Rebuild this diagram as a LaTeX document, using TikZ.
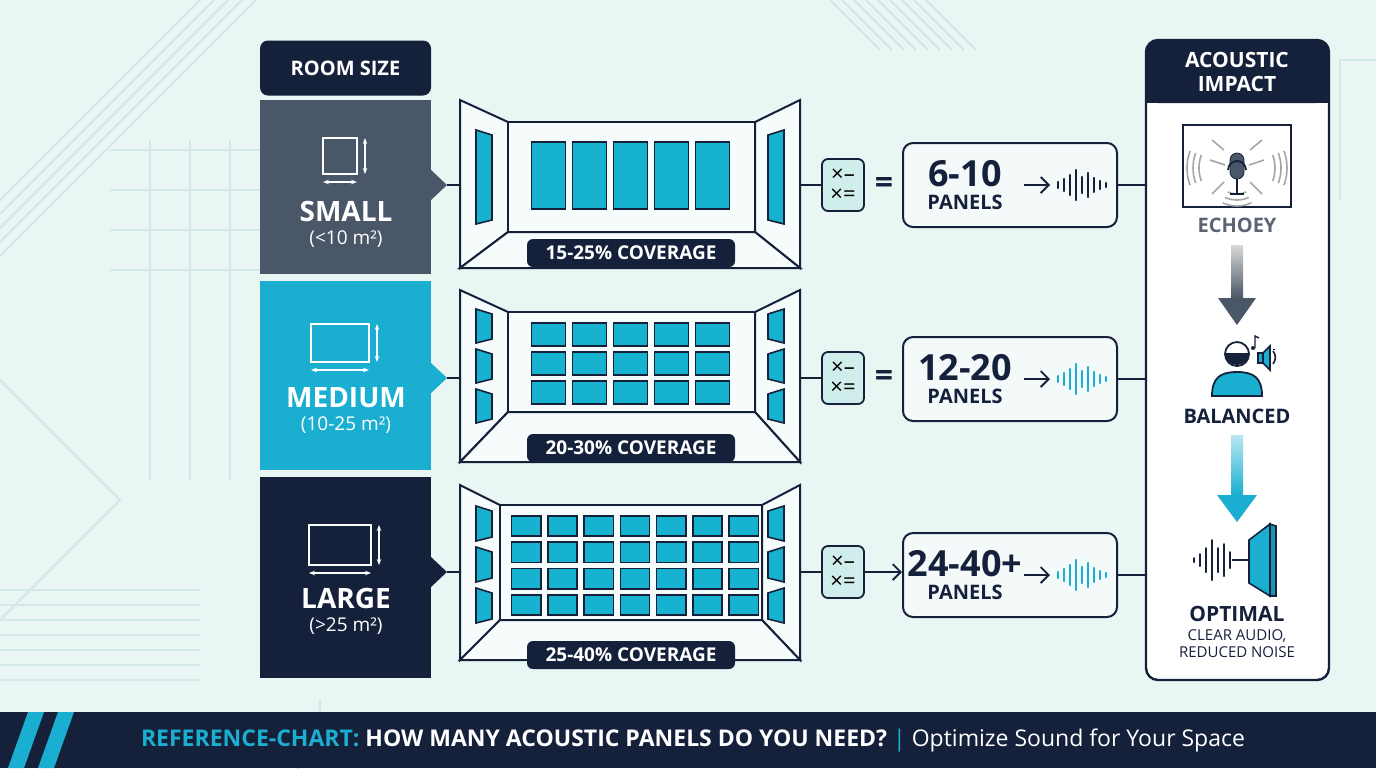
\documentclass[tikz,border=0pt]{standalone}
\usepackage{fontspec}
\setmainfont{Open Sans}
\usetikzlibrary{arrows.meta,shapes.geometric}
\definecolor{bg}{HTML}{E9F6F4}
\definecolor{navy}{HTML}{15213B}
\definecolor{slate}{HTML}{4A5768}
\definecolor{cyan}{HTML}{1AAFD0}
\definecolor{pcyan}{HTML}{17B2D0}
\definecolor{deco}{HTML}{D3E9E6}
\definecolor{calc}{HTML}{CFEDEA}
\definecolor{gtxt}{HTML}{5A6474}
\newcommand{\wavebars}[3]{% x y color
  \foreach \dx/\h in {0/3,6/6,12/10,18/15,24/8,30/12,36/7,42/4,48/2}{
    \draw[#3,line width=1.2pt,line cap=round] (#1+\dx,#2-\h) -- (#1+\dx,#2+\h);}}
\newcommand{\roompanels}[6]{% x0 y0 x1 y1 rows cols
  \pgfmathsetmacro{\pw}{(#3-#1)/#6}\pgfmathsetmacro{\ph}{(#4-#2)/#5}
  \foreach \r in {1,...,#5}{\foreach \c in {1,...,#6}{
    \draw[navy,line width=0.8pt,fill=pcyan] ({#1+(\c-1)*\pw+3.5},{#2+(\r-1)*\ph+3}) rectangle ({#1+\c*\pw-3.5},{#2+\r*\ph-3});}}}
\begin{document}
\begin{tikzpicture}[x=0.5pt,y=-0.5pt,
  hdr/.style={fill=navy,text=white,font=\bfseries\fontsize{10}{12}\selectfont,align=center},
  wall/.style={draw=navy,line width=1pt,fill=white!60!bg},
  cov/.style={fill=navy,text=white,rounded corners=3pt,font=\bfseries\fontsize{9.5}{11}\selectfont,minimum width=104pt,minimum height=14pt,inner sep=0pt},
  res/.style={draw=navy,line width=1pt,rounded corners=5pt,fill=white!50!bg,minimum width=107pt,minimum height=42pt},
  calcb/.style={draw=navy,line width=0.9pt,fill=calc,rounded corners=3pt,minimum width=21pt,minimum height=26pt,inner sep=0pt,font=\fontsize{11}{10}\selectfont,align=center},
  conn/.style={navy,line width=0.9pt},
  big/.style={font=\bfseries\fontsize{14}{16}\selectfont,text=white},
  sub/.style={font=\fontsize{9.5}{11}\selectfont,text=white}]
\fill[bg] (0,0) rectangle (1376,768);
\useasboundingbox (0,0) rectangle (1376,768);
% decorations
\begin{scope}[deco,line width=1pt]
\foreach \i in {0,1,2,3,4}{\draw (0,200+\i*14) -- (200+\i*14,0);}
\foreach \x in {150,190,230}{\draw (\x,140) -- (\x,480);}
\foreach \y in {150,190,230,270}{\draw (110,\y) -- (260,\y);}
\draw (0,380) -- (120,500) -- (0,620);
\foreach \y in {590,605,620,635,650,665,680}{\draw (0,\y) -- (200,\y);}
\draw (320,700) arc (0:90:120);
\foreach \i in {0,...,8}{\draw (830+\i*12,0) -- (880+\i*12,50);}
\draw (1340,60) -- (1376,60); \draw (1340,60) -- (1340,200);
\end{scope}
% left column
\node[hdr,rounded corners=4pt,minimum width=85.5pt,minimum height=27.5pt] (rs) at (345.5,68) {ROOM SIZE};
\fill[slate] (260,100) rectangle (431,274);
\fill[cyan] (260,281) rectangle (431,470);
\fill[navy] (260,477) rectangle (431,678);
\fill[slate] (431,170) -- (447,185) -- (431,200) -- cycle;
\fill[cyan] (431,363) -- (447,378) -- (431,393) -- cycle;
\fill[navy] (431,557) -- (447,572) -- (431,587) -- cycle;
\coordinate (n1) at (447,185); \coordinate (n2) at (447,378); \coordinate (n3) at (447,572);
% size icons
\foreach \yc/\w/\h in {156/34/36,343/58/38,545/62/40}{
  \draw[white,line width=1pt] (346-\w/2-6,\yc-\h/2) rectangle (346+\w/2-6,\yc+\h/2);
  \draw[white,line width=0.9pt,{Stealth[length=3pt]}-{Stealth[length=3pt]}] (346+\w/2+2,\yc-\h/2) -- (346+\w/2+2,\yc+\h/2);
  \draw[white,line width=0.9pt,{Stealth[length=3pt]}-{Stealth[length=3pt]}] (346-\w/2-6,\yc+\h/2+8) -- (346+\w/2-6,\yc+\h/2+8);}
\node[big] (s1) at (346,211) {SMALL};
\node[sub] (s1b) at (346,239) {(<10 m²)};
\node[big] (s2) at (346,398) {MEDIUM};
\node[sub] (s2b) at (346,425) {(10-25 m²)};
\node[big] (s3) at (346,598) {LARGE};
\node[sub] (s3b) at (346,626) {(>25 m²)};
% rooms
\newcommand{\roomdraw}[6]{% top bot btop bbot bl br
 \draw[wall] (460,#1) -- (#5,#3) -- (#5,#4) -- (460,#2) -- cycle;
 \draw[wall] (800,#1) -- (#6,#3) -- (#6,#4) -- (800,#2) -- cycle;
 \draw[wall] (#5,#3) rectangle (#6,#4);
 \draw[wall] (#5,#4) -- (#6,#4) -- (800,#2) -- (460,#2) -- cycle;}
\roomdraw{100}{268}{122}{232}{508}{755}
\roomdraw{290}{462}{312}{412}{508}{755}
\roomdraw{485}{660}{505}{620}{500}{762}
\roompanels{528}{139}{733}{212}{1}{5}
\roompanels{528}{320}{733}{407}{3}{5}
\roompanels{508}{513}{762}{618}{4}{7}
% side panels
\newcommand{\sidep}[4]{%
  \pgfmathsetmacro{\hh}{(#2-#1)/#3}
  \foreach \k in {1,...,#3}{
   \draw[navy,line width=0.8pt,fill=pcyan] (476,{#1+(\k-1)*\hh+3+#4}) -- (492,{#1+(\k-1)*\hh+8+#4}) -- (492,{#1+\k*\hh-5-#4}) -- (476,{#1+\k*\hh-1-#4}) -- cycle;
   \draw[navy,line width=0.8pt,fill=pcyan] (784,{#1+(\k-1)*\hh+3+#4}) -- (768,{#1+(\k-1)*\hh+8+#4}) -- (768,{#1+\k*\hh-5-#4}) -- (784,{#1+\k*\hh-1-#4}) -- cycle;}}
\sidep{127}{225}{1}{0}
\sidep{305}{425}{3}{1}
\sidep{502}{625}{3}{1}
% calc
\node[calcb] (k1) at (843,185) {×–\\×=};
\node[calcb] (k2) at (843,378) {×–\\×=};
\node[calcb] (k3) at (843,572) {×–\\×=};
\coordinate (r1l) at (460,185); \coordinate (r1r) at (800,185);
\coordinate (r2l) at (460,378); \coordinate (r2r) at (800,378);
\coordinate (r3l) at (460,572); \coordinate (r3r) at (800,572);
\node[cov] (c1) at (631,253) {15-25\% COVERAGE};
\node[cov] (c2) at (631,448) {20-30\% COVERAGE};
\node[cov] (c3) at (631,655) {25-40\% COVERAGE};
\node[font=\bfseries\fontsize{16}{16}\selectfont,text=navy] (e1) at (884,185) {=};
\node[font=\bfseries\fontsize{16}{16}\selectfont,text=navy] (e2) at (884,378) {=};
% result boxes
\node[res] (b1) at (1010,185) {};
\node[res] (b2) at (1010,379) {};
\node[res] (b3) at (1010,575) {};
\foreach \b/\t/\y in {b1/6-10/185,b2/12-20/379,b3/24-40+/575}{
  \node[font=\bfseries\fontsize{18}{18}\selectfont,text=navy] (\b t) at (965,\y-11) {\t};
  \node[font=\bfseries\fontsize{10}{10}\selectfont,text=navy] (\b p) at (965,\y+17) {PANELS};}
\foreach \b/\y/\wc in {b1/185/navy,b2/379/cyan,b3/575/cyan}{
  \draw[navy,line width=0.9pt,-{Straight Barb[length=4pt]}] (1024,\y) -- (1050,\y);
  \wavebars{1058}{\y}{\wc}}
% connectors
\draw[conn] (n1) -- (r1l); \draw[conn] (n2) -- (r2l); \draw[conn] (n3) -- (r3l);
\draw[conn] (r1r) -- (k1.west); \draw[conn] (r2r) -- (k2.west); \draw[conn] (r3r) -- (k3.west);
\draw[conn,-{Straight Barb[length=4pt]}] (k3.east) -- (b3.west |- k3.east);
\draw[conn] (b1.east) -- (1146,185); \draw[conn] (b2.east) -- (1146,379); \draw[conn] (b3.east) -- (1146,575);
% right panel
\draw[navy,line width=1.2pt,fill=white,rounded corners=6pt] (1146,40) rectangle (1329,680);
\fill[navy,rounded corners=6pt] (1146,40) rectangle (1329,103);
\fill[navy] (1146,80) rectangle (1329,103);
\node[font=\bfseries\fontsize{10.5}{12}\selectfont,text=white,align=center] (ai) at (1237,72) {ACOUSTIC\\IMPACT};
% echo icon
\draw[navy,line width=1pt,fill=white] (1183,125) rectangle (1291,207);
\begin{scope}[gray!70,line width=0.8pt]
\foreach \r in {22,28,34}{\draw (1237,172) ++(65:\r) arc (65:115:\r);}
\foreach \r in {38,44,50}{\draw (1237,168) ++(-20:\r) arc (-20:20:\r); \draw (1237,168) ++(160:\r) arc (160:200:\r);}
\draw (1225,165)--(1210,160); \draw (1249,165)--(1264,160);
\draw (1224,182)--(1212,194); \draw (1250,182)--(1262,194);
\draw (1224,150)--(1212,140); \draw (1250,150)--(1262,140);
\end{scope}
\node[draw=navy,fill=slate,rounded corners=3.5pt,minimum width=7pt,minimum height=13pt,inner sep=0pt] (mic) at (1237,166) {};
\draw[navy,line width=0.9pt] (1228,170) arc (180:360:9);
\draw[navy,line width=0.9pt] (1237,179) -- (1237,194) (1230,194) -- (1244,194);
\node[font=\bfseries\fontsize{10}{12}\selectfont,text=gtxt] (ec) at (1237,225) {ECHOEY};
\shade[top color=gray!30,bottom color=slate] (1231,245) rectangle (1243,298);
\fill[slate] (1218,298) -- (1256,298) -- (1237,325) -- cycle;
% person
\draw[navy,line width=0.9pt,fill=cyan] (1212,396) .. controls (1212,378) and (1220,372) .. (1237,372) .. controls (1254,372) and (1262,378) .. (1262,396) -- cycle;
\draw[navy,line width=0.9pt,fill=white] (1237,354) circle (12);
\fill[navy] (1225,353) arc (180:0:12) -- cycle;
\draw[navy,line width=0.8pt,fill=cyan] (1258,353) rectangle (1263,363) (1263,353) -- (1270,346) -- (1270,370) -- (1263,363);
\draw[navy,line width=0.8pt] (1274,350) arc (-35:35:-1) ;
\draw[navy,line width=0.8pt] (1273,351) arc (-40:40:10);
\draw[navy,line width=0.7pt] (1255,348) -- (1255,336) -- (1259,338);
\fill[navy] (1253,348) circle (2);
\node[font=\bfseries\fontsize{10}{12}\selectfont,text=navy] (bal) at (1237,416) {BALANCED};
\shade[top color=cyan!30,bottom color=cyan] (1231,435) rectangle (1243,495);
\fill[cyan] (1217,495) -- (1257,495) -- (1237,522) -- cycle;
% optimal icon
\foreach \dx/\h in {0/2,6/6,12/12,18/20,24/12,30/16,36/8}{
  \draw[navy,line width=1pt,line cap=round] (1194+\dx,560-\h) -- (1194+\dx,560+\h);}
\draw[navy,line width=0.9pt,-{Straight Barb[length=4pt]}] (1232,560) -- (1258,560);
\draw[navy,line width=0.8pt,fill=cyan] (1249,540) -- (1270,524) -- (1270,596) -- (1249,583) -- cycle;
\draw[navy,line width=0.8pt,fill=cyan!80!navy] (1270,524) -- (1276,526) -- (1276,596) -- (1270,596) -- cycle;
\node[font=\bfseries\fontsize{10.5}{12}\selectfont,text=navy] (op) at (1237,614) {OPTIMAL};
\node[font=\fontsize{7.5}{8.5}\selectfont,text=navy,align=center] (ca) at (1237,644) {CLEAR AUDIO,\\REDUCED NOISE};
% footer
\fill[navy] (0,712) rectangle (1376,768);
\fill[cyan] (28,712) -- (44,712) -- (24,768) -- (8,768) -- cycle;
\fill[cyan] (58,712) -- (74,712) -- (54,768) -- (38,768) -- cycle;
\node[font=\fontsize{11.5}{14}\selectfont,text=white] (ft) at (693,740) {\textcolor{cyan}{\bfseries REFERENCE-CHART:} \textbf{HOW MANY ACOUSTIC PANELS DO YOU NEED?} \textcolor{cyan}{|} Optimize Sound for Your Space};
\end{tikzpicture}
\end{document}
